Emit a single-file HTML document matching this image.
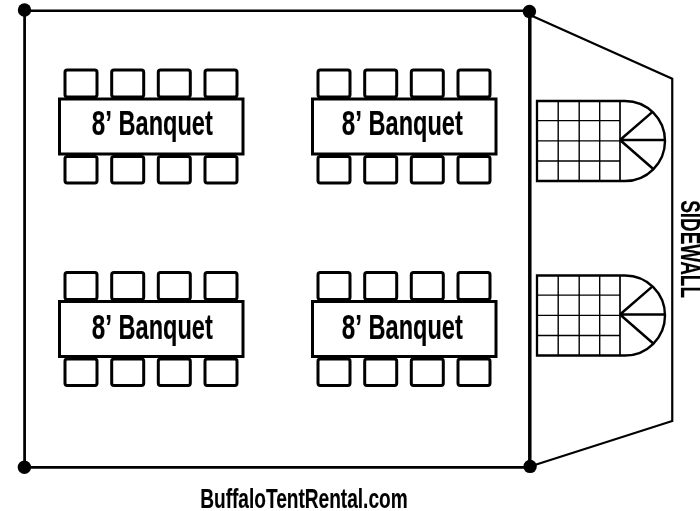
<!DOCTYPE html>
<html><head><meta charset="utf-8">
<style>
html,body{margin:0;padding:0;background:#fff;}
body{width:700px;height:511px;overflow:hidden;}
svg{display:block;will-change:transform;}
text{font-family:"Liberation Sans",sans-serif;font-weight:bold;fill:#000;stroke:#000;stroke-width:0.15px;}
</style></head>
<body>
<svg width="700" height="511" viewBox="0 0 700 511">
<defs>
  <g id="table">
    <rect x="65" y="70" width="32" height="27" rx="2.2" fill="none" stroke="#000" stroke-width="3"/>
    <rect x="111.7" y="70" width="32" height="27" rx="2.2" fill="none" stroke="#000" stroke-width="3"/>
    <rect x="158.3" y="70" width="32" height="27" rx="2.2" fill="none" stroke="#000" stroke-width="3"/>
    <rect x="205" y="70" width="32" height="27" rx="2.2" fill="none" stroke="#000" stroke-width="3"/>
    <rect x="65" y="156.5" width="32" height="26.5" rx="2.2" fill="none" stroke="#000" stroke-width="3"/>
    <rect x="111.7" y="156.5" width="32" height="26.5" rx="2.2" fill="none" stroke="#000" stroke-width="3"/>
    <rect x="158.3" y="156.5" width="32" height="26.5" rx="2.2" fill="none" stroke="#000" stroke-width="3"/>
    <rect x="205" y="156.5" width="32" height="26.5" rx="2.2" fill="none" stroke="#000" stroke-width="3"/>
    <rect x="59.5" y="99" width="183.5" height="55" fill="#fff" stroke="#000" stroke-width="3"/>
  </g>
  <g id="label">
    <text x="91.73" y="134.8" font-size="34.5" textLength="20.21" lengthAdjust="spacingAndGlyphs">8’</text>
    <text x="118.52" y="134.8" font-size="34.5" textLength="94.26" lengthAdjust="spacingAndGlyphs">Banquet</text>
  </g>
  <g id="stage">
    <g fill="none" stroke="#000">
      <path d="M537 120.6H620M537 140.9H620M537 161H620M558.2 101V181M579.2 101V181M599.7 101V181" stroke-width="1.4"/>
      <path d="M625 101H537V181H625" stroke-width="2.3"/>
      <path d="M620 101V181" stroke-width="1.7"/>
      <path d="M625 101A40 40 0 0 1 625 181" stroke-width="2.4"/>
      <path d="M620 140H665M620 140L652.5 111.9M620 140L653 168.8" stroke-width="2.5"/>
    </g>
  </g>
</defs>
<g fill="none" stroke="#000">
  <path d="M24.5 10.75H530" stroke-width="2.5"/>
  <path d="M24.5 467.25H530" stroke-width="2.75"/>
  <path d="M24.6 10V467" stroke-width="2.75"/>
  <path d="M529.8 11V466.5" stroke-width="3.5"/>
  <path d="M530 15L672.25 78.8V421L530 466.5" stroke-width="2.2" stroke-linejoin="miter"/>
</g>
<g fill="#000">
  <circle cx="24.5" cy="10" r="6.7"/>
  <circle cx="529.4" cy="11.4" r="6.7"/>
  <circle cx="24.4" cy="467.2" r="6.7"/>
  <circle cx="530.1" cy="466.4" r="6.7"/>
</g>
<use href="#table"/>
<use href="#table" transform="translate(253,0)"/>
<use href="#table" transform="translate(0,202.5)"/>
<use href="#table" transform="translate(253,202.5)"/>
<use href="#label"/>
<use href="#label" transform="translate(250,0)"/>
<use href="#label" transform="translate(0,204.3)"/>
<use href="#label" transform="translate(250,204.3)"/>
<use href="#stage"/>
<use href="#stage" transform="translate(0,174.5)"/>
<text transform="translate(680.6,0) rotate(90)" x="200.16" y="0" font-size="27.3" textLength="97.82" lengthAdjust="spacingAndGlyphs">SIDEWALL</text>
<text x="200.23" y="508.3" font-size="26.9" textLength="207.44" lengthAdjust="spacingAndGlyphs">BuffaloTentRental.com</text>
</svg>
</body></html>
